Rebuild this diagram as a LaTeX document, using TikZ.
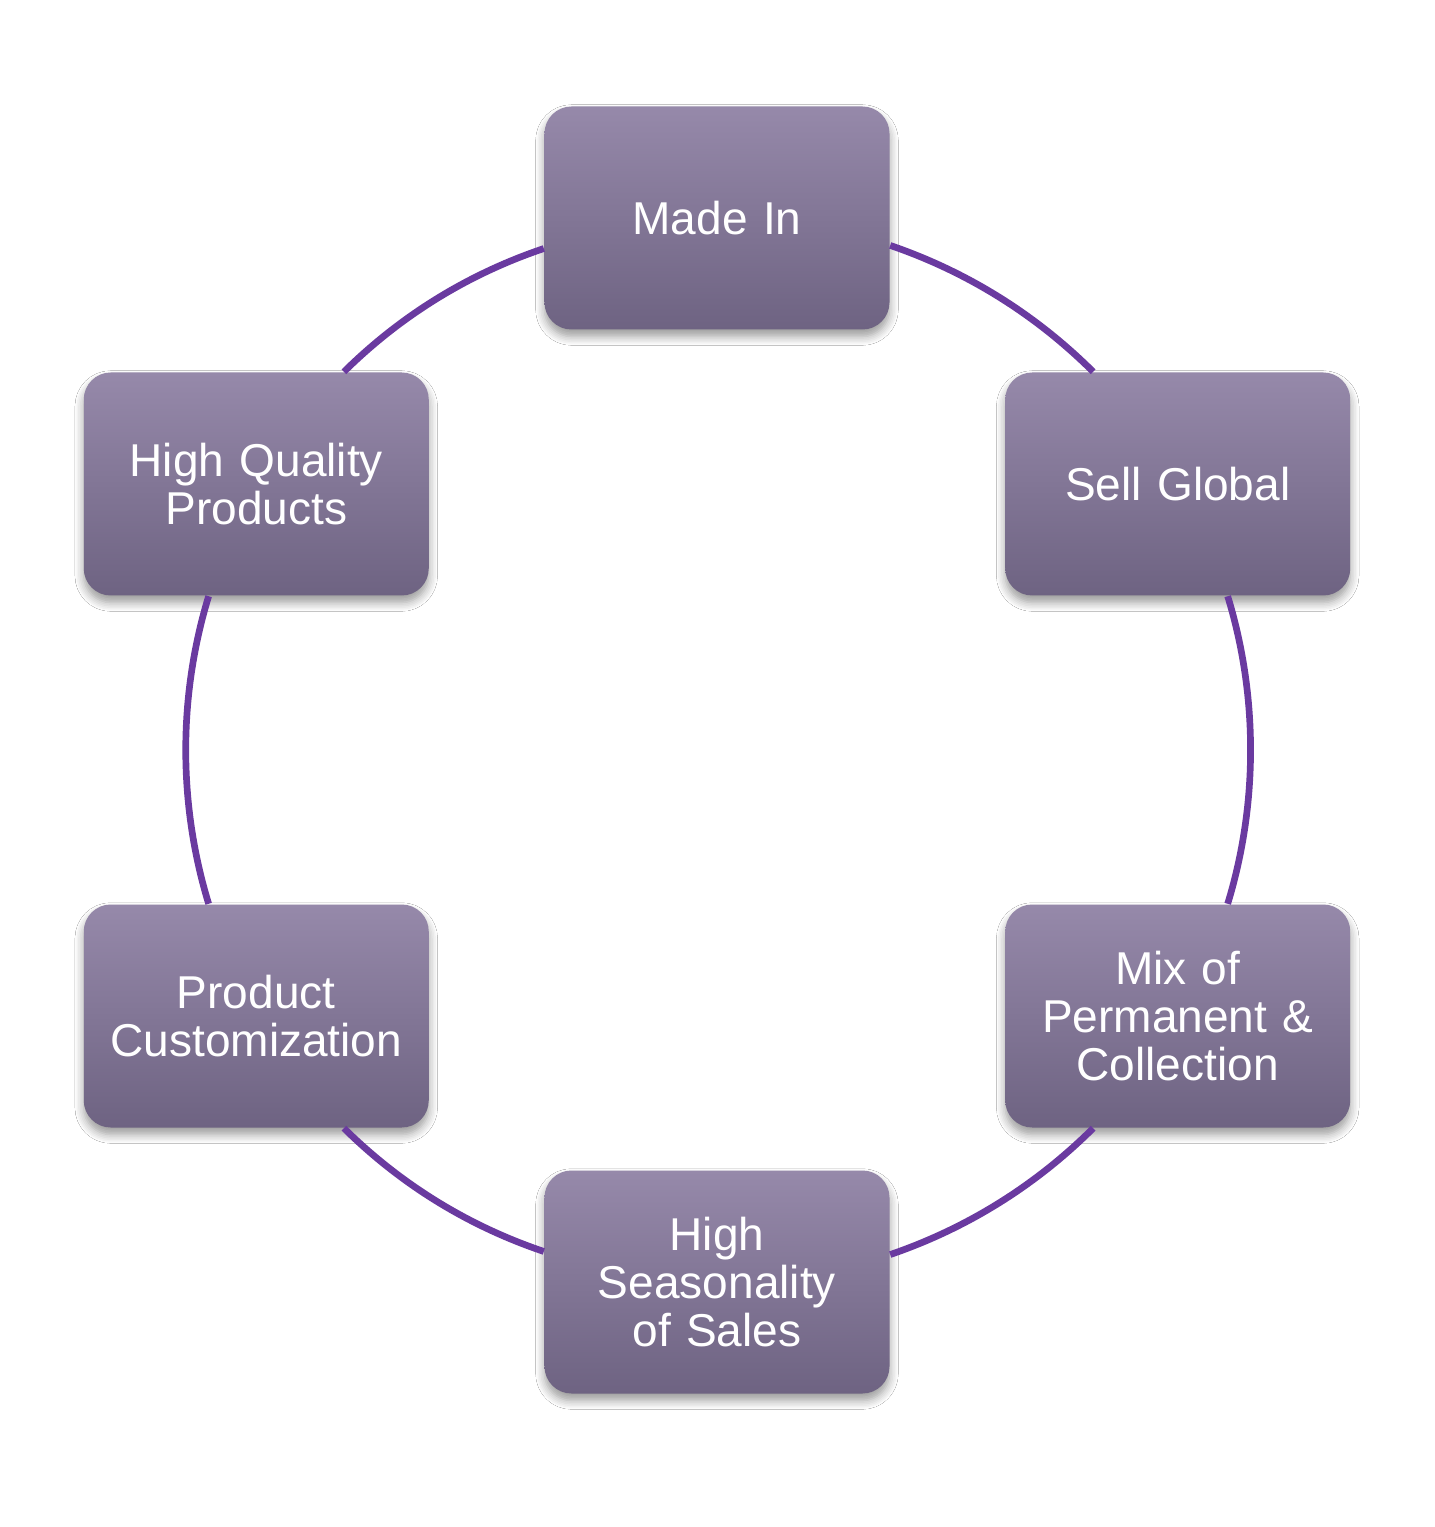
\documentclass[tikz,border=0pt]{standalone}
\usepackage{fontspec}
\setmainfont{Liberation Sans}
\usetikzlibrary{shadows.blur}
\definecolor{ringpurple}{RGB}{106,58,160}
\definecolor{boxtop}{RGB}{150,137,170}
\definecolor{boxbot}{RGB}{110,99,130}
\begin{document}
\begin{tikzpicture}[
    box/.style={rectangle, rounded corners=0.27cm, inner sep=0pt,
      minimum width=3.45cm, minimum height=2.23cm, text width=3.3cm,
      align=center, top color=boxtop, bottom color=boxbot, text=white,
      font=\fontsize{13.1}{13.7}\selectfont,
      blur shadow={shadow xshift=0pt, shadow yshift=-2pt, shadow blur radius=2.5pt,
        shadow opacity=40, shadow blur steps=6}},
    ring/.style={draw=ringpurple, line width=1.9pt, bend left=13, looseness=0.87}
  ]
    \path[fill=white,use as bounding box] (-7.17,-7.77) rectangle (7.18,7.50);
    \node[box] (M) at (90:5.32) {Made In};
    \node[box] (S) at (30:5.32) {Sell Global};
    \node[box] (X) at (-30:5.32) {Mix of\\Permanent \&\\Collection};
    \node[box] (H) at (-90:5.32) {High\\Seasonality\\of Sales};
    \node[box] (C) at (-150:5.32) {Product\\Customization};
    \node[box] (Q) at (150:5.32) {High Quality\\Products};
%    ring between the boxes
    \draw[ring] (M.-9.46) to (S.127.6);
    \draw[ring, bend left=17] (S.-66.55) to (X.66.55);
    \draw[ring] (X.-127.6) to (H.9.46);
    \draw[ring] (H.170.54) to (C.-52.4);
    \draw[ring, bend left=17] (C.113.45) to (Q.-113.45);
    \draw[ring] (Q.52.4) to (M.-170.54);
  \end{tikzpicture}
\end{document}
